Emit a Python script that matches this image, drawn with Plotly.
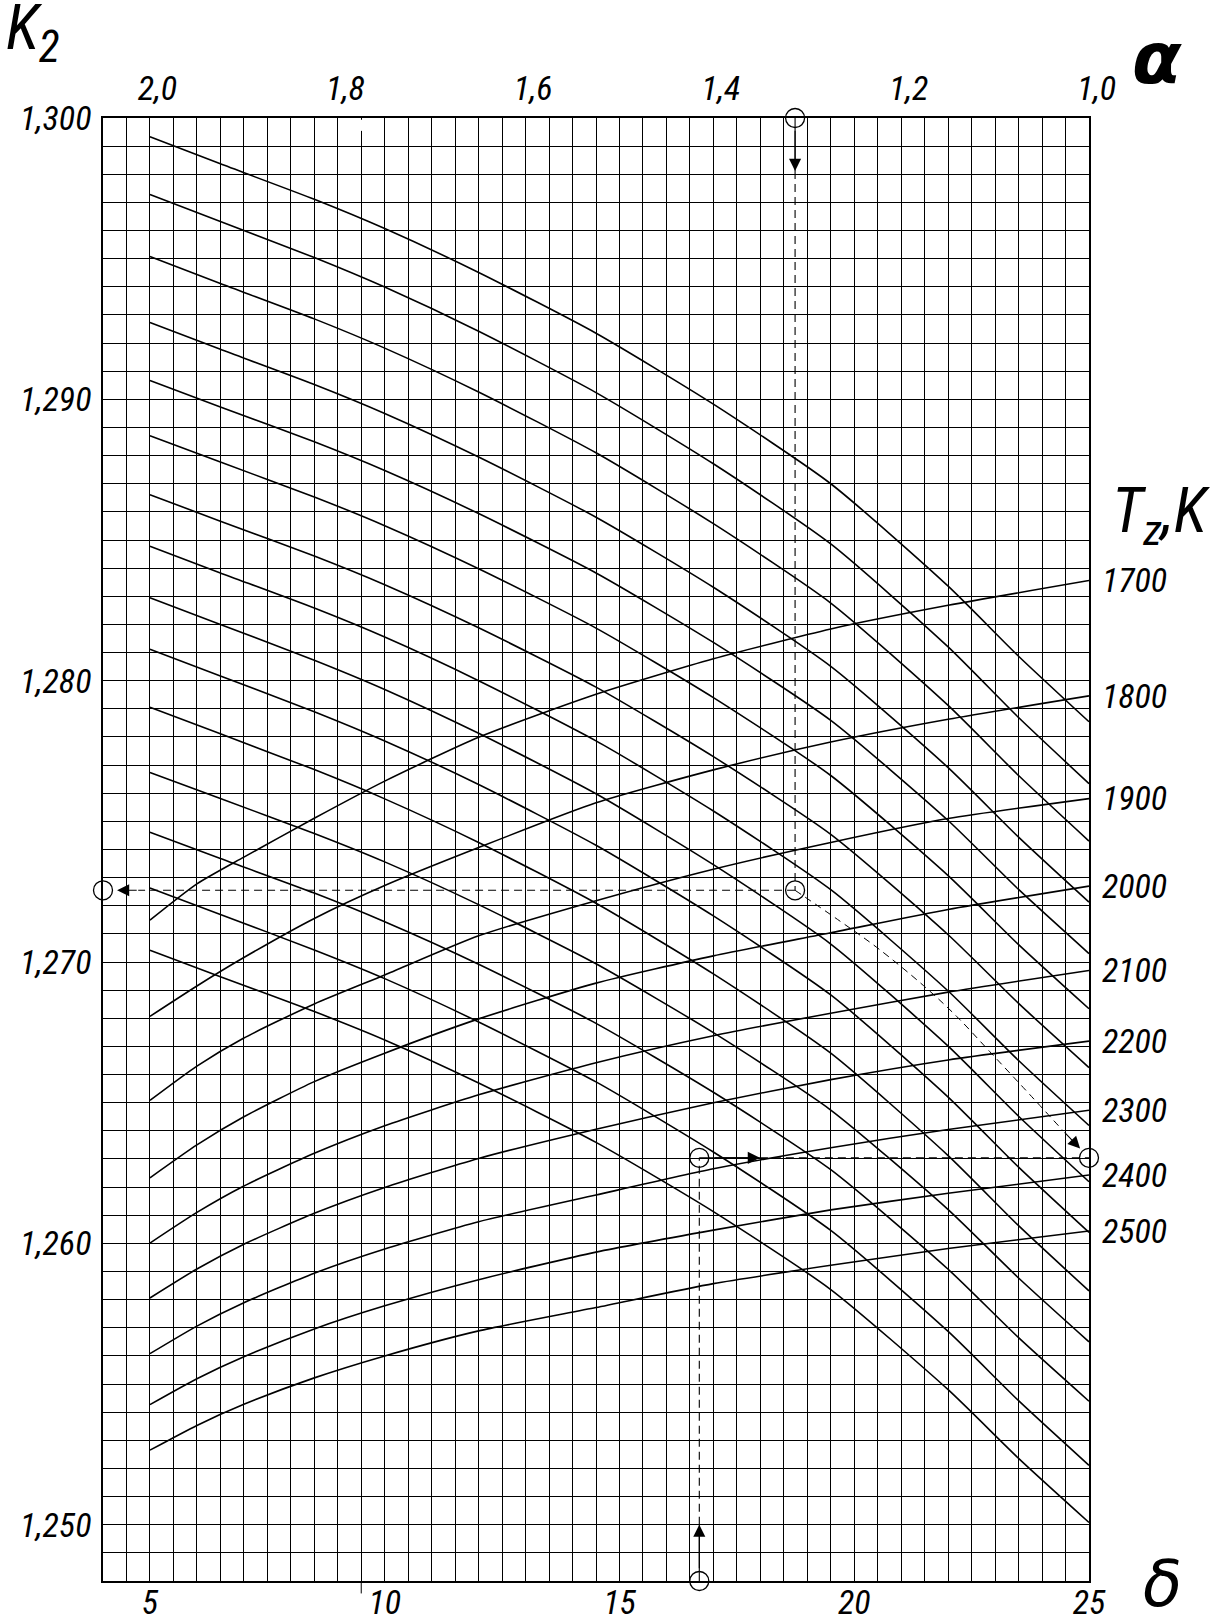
import plotly.graph_objects as go

# ---------------- data ----------------
# delta grid for descending family
delta_desc = [5, 6.5, 8.5, 10, 12, 14.5, 17, 19.5, 22, 23.5, 25]
desc_01 = [1.29933, 1.29837, 1.29711, 1.29607, 1.29451, 1.29235, 1.28983, 1.28700, 1.28336, 1.28087, 1.27854]
desc_02 = [1.29728, 1.29632, 1.29504, 1.29399, 1.29242, 1.29024, 1.28771, 1.28486, 1.28120, 1.27869, 1.27634]
desc_03 = [1.29508, 1.29412, 1.29286, 1.29182, 1.29026, 1.28810, 1.28558, 1.28276, 1.27912, 1.27663, 1.27430]
desc_04 = [1.29273, 1.29178, 1.29053, 1.28950, 1.28795, 1.28581, 1.28332, 1.28051, 1.27691, 1.27444, 1.27213]
desc_05 = [1.29067, 1.28973, 1.28849, 1.28747, 1.28594, 1.28383, 1.28136, 1.27859, 1.27503, 1.27258, 1.27030]
desc_06 = [1.28871, 1.28777, 1.28653, 1.28551, 1.28398, 1.28187, 1.27940, 1.27663, 1.27307, 1.27062, 1.26834]
desc_07 = [1.28661, 1.28567, 1.28443, 1.28341, 1.28188, 1.27977, 1.27730, 1.27454, 1.27097, 1.26853, 1.26625]
desc_08 = [1.28478, 1.28383, 1.28258, 1.28155, 1.28000, 1.27786, 1.27537, 1.27257, 1.26897, 1.26650, 1.26419]
desc_09 = [1.28295, 1.28200, 1.28073, 1.27969, 1.27813, 1.27598, 1.27346, 1.27064, 1.26701, 1.26452, 1.26219]
desc_10 = [1.28112, 1.28017, 1.27890, 1.27786, 1.27631, 1.27415, 1.27164, 1.26883, 1.26520, 1.26271, 1.26039]
desc_11 = [1.27906, 1.27811, 1.27684, 1.27580, 1.27425, 1.27209, 1.26958, 1.26676, 1.26312, 1.26063, 1.25831]
desc_12 = [1.27674, 1.27581, 1.27457, 1.27356, 1.27204, 1.26994, 1.26749, 1.26474, 1.26120, 1.25877, 1.25650]
desc_13 = [1.27461, 1.27368, 1.27245, 1.27143, 1.26992, 1.26782, 1.26537, 1.26262, 1.25908, 1.25665, 1.25439]
desc_14 = [1.27263, 1.27169, 1.27043, 1.26941, 1.26787, 1.26574, 1.26325, 1.26046, 1.25687, 1.25441, 1.25211]
desc_15 = [1.27042, 1.26948, 1.26824, 1.26723, 1.26570, 1.26359, 1.26113, 1.25836, 1.25480, 1.25236, 1.25008]

# delta grid for rising family (Tz curves)
delta_rise = [5, 6, 7, 8.5, 10, 12, 14.5, 17, 19.5, 22, 25]
tz_1700 = [1.27149, 1.27278, 1.27373, 1.27511, 1.27643, 1.27799, 1.27952, 1.28078, 1.28184, 1.28268, 1.28356]
tz_1800 = [1.26807, 1.26915, 1.27016, 1.27155, 1.27272, 1.27407, 1.27566, 1.27683, 1.27782, 1.27863, 1.27946]
tz_1900 = [1.26508, 1.26630, 1.26730, 1.26851, 1.26954, 1.27093, 1.27218, 1.27330, 1.27425, 1.27510, 1.27581]
tz_2000 = [1.26233, 1.26350, 1.26450, 1.26575, 1.26676, 1.26798, 1.26925, 1.27022, 1.27104, 1.27187, 1.27270]
tz_2100 = [1.26001, 1.26110, 1.26204, 1.26320, 1.26418, 1.26528, 1.26642, 1.26738, 1.26818, 1.26893, 1.26970]
tz_2200 = [1.25806, 1.25909, 1.25997, 1.26107, 1.26199, 1.26302, 1.26406, 1.26500, 1.26582, 1.26652, 1.26719]
tz_2300 = [1.25608, 1.25706, 1.25789, 1.25894, 1.25980, 1.26077, 1.26172, 1.26265, 1.26340, 1.26405, 1.26473]
tz_2400 = [1.25427, 1.25519, 1.25597, 1.25696, 1.25778, 1.25871, 1.25969, 1.26047, 1.26119, 1.26178, 1.26243]
tz_2500 = [1.25265, 1.25353, 1.25428, 1.25522, 1.25600, 1.25689, 1.25772, 1.25857, 1.25922, 1.25982, 1.26044]
tz_labels = ["1700", "1800", "1900", "2000", "2100", "2200", "2300", "2400", "2500"]

# axis ticks
k2_ticks = [1.250, 1.260, 1.270, 1.280, 1.290, 1.300]
k2_ticktext = ["1,250", "1,260", "1,270", "1,280", "1,290", "1,300"]
delta_ticks = [5, 10, 15, 20, 25]
alpha_ticks = [2.0, 1.8, 1.6, 1.4, 1.2, 1.0]
alpha_ticktext = ["2,0", "1,8", "1,6", "1,4", "1,2", "1,0"]

# worked example (dashed key)
ex_alpha = 1.313
ex_alpha_arrow_tip = 1.29812
ex_alpha_left_tail = 2.0125
ex_k2_alpha = 1.27255
ex_curve_delta = [18.74, 19.70, 20.48, 21.47, 22.18, 22.89, 23.60, 24.45]
ex_curve_k2 = [1.27255, 1.27145, 1.27052, 1.26917, 1.26807, 1.26681, 1.26554, 1.26400]
ex_right_arrow_tip = (24.81, 1.26337)
ex_k2_right = 1.26304
ex_delta = 16.70
ex_delta_arrow_tip = 17.99
ex_bottom_arrow_tip = 1.2500

desc_curves = [desc_01, desc_02, desc_03, desc_04, desc_05, desc_06, desc_07, desc_08,
               desc_09, desc_10, desc_11, desc_12, desc_13, desc_14, desc_15]
rise_curves = [tz_1700, tz_1800, tz_1900, tz_2000, tz_2100, tz_2200, tz_2300, tz_2400, tz_2500]

X_MIN, X_MAX = 4, 25
Y_MIN, Y_MAX = 1.248, 1.300
ALPHA_RANGE = [2.05, 1.0]

FONT = "Liberation Sans Narrow, Roboto Condensed, DejaVu Sans Condensed, Liberation Sans, sans-serif"
CURVE = dict(color="black", width=1.6, shape="spline", smoothing=0.6)
DASH = dict(color="black", width=1.1, dash="8px,5px")
EN = "\u2002"  # small lead so the italic alpha labels sit right of their ticks, as drawn

fig = go.Figure()

for k2 in desc_curves:
    fig.add_trace(go.Scatter(x=delta_desc, y=k2, mode="lines", line=CURVE,
                             hoverinfo="skip", showlegend=False))
for k2 in rise_curves:
    fig.add_trace(go.Scatter(x=delta_rise, y=k2, yaxis="y2", mode="lines", line=CURVE,
                             hoverinfo="skip", showlegend=False))

# example: vertical line from alpha
fig.add_trace(go.Scatter(x=[ex_alpha, ex_alpha], y=[Y_MAX, ex_alpha_arrow_tip], xaxis="x2",
                         mode="lines", line=dict(color="black", width=1.1),
                         hoverinfo="skip", showlegend=False))
fig.add_trace(go.Scatter(x=[ex_alpha, ex_alpha], y=[ex_alpha_arrow_tip, ex_k2_alpha], xaxis="x2",
                         mode="lines", line=DASH, hoverinfo="skip", showlegend=False))
# horizontal dashed to K2 axis
fig.add_trace(go.Scatter(x=[ex_alpha, ex_alpha_left_tail], y=[ex_k2_alpha, ex_k2_alpha], xaxis="x2",
                         mode="lines", line=DASH, hoverinfo="skip", showlegend=False))
# circles on alpha axis
fig.add_trace(go.Scatter(x=[ex_alpha, ex_alpha], y=[Y_MAX, ex_k2_alpha], xaxis="x2",
                         mode="markers", cliponaxis=False,
                         marker=dict(symbol="circle-open", size=19, color="black", line=dict(width=1.3)),
                         hoverinfo="skip", showlegend=False))
# dashed curve to right edge
fig.add_trace(go.Scatter(x=ex_curve_delta, y=ex_curve_k2, mode="lines",
                         line=dict(color="black", width=1.0, dash="7px,5px", shape="spline"),
                         hoverinfo="skip", showlegend=False))
# horizontal line from right edge
fig.add_trace(go.Scatter(x=[ex_delta_arrow_tip, X_MAX], y=[ex_k2_right, ex_k2_right], mode="lines",
                         line=DASH, hoverinfo="skip", showlegend=False))
fig.add_trace(go.Scatter(x=[ex_delta, ex_delta_arrow_tip], y=[ex_k2_right, ex_k2_right], mode="lines",
                         line=dict(color="black", width=1.1), hoverinfo="skip", showlegend=False))
# vertical line from delta axis
fig.add_trace(go.Scatter(x=[ex_delta, ex_delta], y=[ex_bottom_arrow_tip, ex_k2_right], mode="lines",
                         line=DASH, hoverinfo="skip", showlegend=False))
fig.add_trace(go.Scatter(x=[ex_delta, ex_delta], y=[Y_MIN, ex_bottom_arrow_tip], mode="lines",
                         line=dict(color="black", width=1.1), hoverinfo="skip", showlegend=False))
# circles on delta axis
fig.add_trace(go.Scatter(x=[X_MIN, X_MAX, ex_delta, ex_delta], y=[ex_k2_alpha, ex_k2_right, ex_k2_right, Y_MIN],
                         mode="markers", cliponaxis=False,
                         marker=dict(symbol="circle-open", size=19, color="black", line=dict(width=1.3)),
                         hoverinfo="skip", showlegend=False))

AX_GRID = dict(showgrid=True, gridcolor="black", gridwidth=1, zeroline=False, automargin=False,
               showline=True, mirror=True, linecolor="black", linewidth=1.5, ticks="")
TICKFONT = dict(family=FONT, size=34, color="black", style="italic")

fig.update_layout(
    width=1223, height=1622, autosize=False,
    margin=dict(l=103, r=134, t=118, b=41, pad=0),
    paper_bgcolor="white", plot_bgcolor="white",
    hovermode=False, showlegend=False,
    xaxis=dict(range=[X_MIN, X_MAX], tickvals=delta_ticks, ticktext=[str(v) for v in delta_ticks],
               minor=dict(tick0=X_MIN, dtick=0.5, showgrid=True, gridcolor="black", gridwidth=1),
               tickfont=TICKFONT, ticklabelstandoff=-10, **AX_GRID),
    xaxis2=dict(range=ALPHA_RANGE, overlaying="x", side="top", tickvals=alpha_ticks,
                ticktext=[EN + t for t in alpha_ticktext], showgrid=False, zeroline=False,
                showline=False, ticks="", automargin=False, tickfont=TICKFONT, ticklabelstandoff=10),
    yaxis=dict(range=[Y_MIN, Y_MAX], tickvals=k2_ticks, ticktext=k2_ticktext,
               minor=dict(tick0=Y_MIN, dtick=0.001, showgrid=True, gridcolor="black", gridwidth=1),
               tickfont=TICKFONT, ticklabelstandoff=3, **AX_GRID),
    yaxis2=dict(range=[Y_MIN, Y_MAX], overlaying="y", side="right",
                tickvals=[c[-1] for c in rise_curves], ticktext=tz_labels,
                showgrid=False, zeroline=False, showline=False, ticks="", automargin=False,
                tickfont=TICKFONT, ticklabelstandoff=12),
)

# arrows
ARW = dict(text="", showarrow=True, arrowhead=2, arrowsize=2.2, arrowwidth=1.1, arrowcolor="black")
fig.add_annotation(x=ex_alpha, y=ex_alpha_arrow_tip, ax=ex_alpha, ay=Y_MAX - 0.0004,
                   xref="x2", yref="y", axref="x2", ayref="y", **ARW)
fig.add_annotation(x=2.035, y=ex_k2_alpha, ax=ex_alpha_left_tail, ay=ex_k2_alpha,
                   xref="x2", yref="y", axref="x2", ayref="y", **ARW)
fig.add_annotation(x=ex_right_arrow_tip[0], y=ex_right_arrow_tip[1], ax=ex_curve_delta[-1], ay=ex_curve_k2[-1],
                   xref="x", yref="y", axref="x", ayref="y", **ARW)
fig.add_annotation(x=ex_delta_arrow_tip, y=ex_k2_right, ax=ex_delta + 0.3, ay=ex_k2_right,
                   xref="x", yref="y", axref="x", ayref="y", **ARW)
fig.add_annotation(x=ex_delta, y=ex_bottom_arrow_tip, ax=ex_delta, ay=Y_MIN + 0.0004,
                   xref="x", yref="y", axref="x", ayref="y", **ARW)

# axis titles
fig.add_annotation(text="K<sub>2</sub>", xref="paper", yref="paper", x=-0.100, y=1.0885,
                   xanchor="left", yanchor="top", showarrow=False,
                   font=dict(family=FONT, size=62, color="black", style="italic"))
fig.add_annotation(text="α", xref="paper", yref="paper", x=1.069, y=1.041,
                   xanchor="center", yanchor="middle", showarrow=False,
                   font=dict(family="DejaVu Sans", size=72, color="black", style="italic", weight="bold"))
fig.add_annotation(text="δ", xref="paper", yref="paper", x=1.075, y=-0.0285,
                   xanchor="center", yanchor="bottom", showarrow=False,
                   font=dict(family="DejaVu Sans", size=64, color="black", style="italic"))
fig.add_annotation(text="T<sub>z</sub>,K", xref="paper", yref="paper", x=1.1258, y=0.7285,
                   xanchor="right", yanchor="middle", showarrow=False,
                   font=dict(family=FONT, size=62, color="black", style="italic"))

# small drafting marks at delta = 9.5
mark_x = 9.5
fig.add_shape(type="line", xref="x", yref="paper", x0=mark_x, x1=mark_x, y0=0.9912, y1=0.9988,
              line=dict(color="white", width=2))
fig.add_shape(type="line", xref="x", yref="paper", x0=mark_x, x1=mark_x, y0=0, y1=-0.0085,
              line=dict(color="black", width=1))

fig.write_html("out.html", config={"displayModeBar": False},
               post_script="document.body.style.margin='0';document.body.style.padding='0';")
